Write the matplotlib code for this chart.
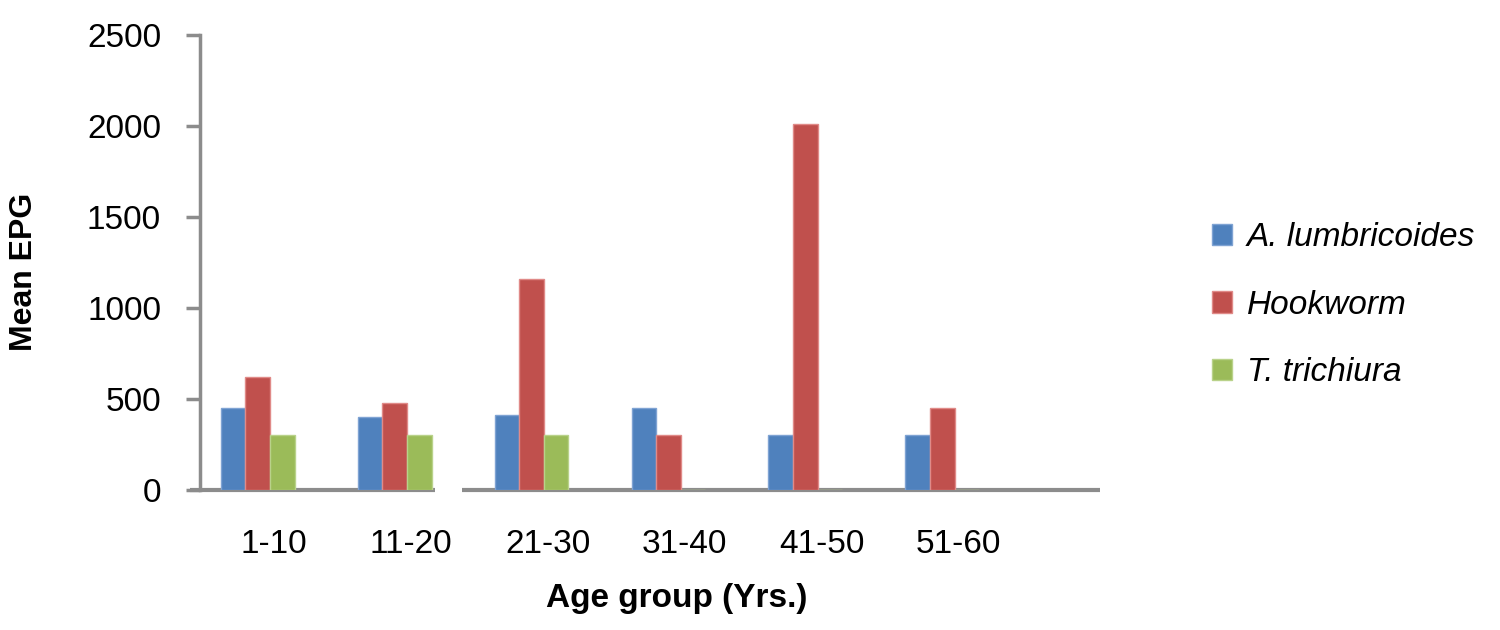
import matplotlib
matplotlib.use("Agg")
import matplotlib.pyplot as plt
import numpy as np
from matplotlib.patches import Patch
from matplotlib.transforms import ScaledTranslation

plt.rcParams['font.family'] = ['Liberation Sans', 'DejaVu Sans']

categories = ["1-10", "11-20", "21-30", "31-40", "41-50", "51-60"]
series_names = ["A. lumbricoides", "Hookworm", "T. trichiura"]
a_lumbricoides = [450, 400, 410, 450, 300, 300]
hookworm = [620, 480, 1160, 300, 2010, 450]
t_trichiura = [300, 300, 300, 0, 0, 0]
yticks = [0, 500, 1000, 1500, 2000, 2500]

colors = ["#4F81BD", "#C0504D", "#9BBB59"]
edges = ["#7FA3D3", "#E08A88", "#B9D28A"]

fig = plt.figure(figsize=(15, 6.3), dpi=100)
ax = fig.add_axes([200/1500, 1-490/630, 900/1500, 455/630])

x = np.arange(len(categories))
w = 0.18
for i, (vals, c, ec) in enumerate(zip([a_lumbricoides, hookworm, t_trichiura], colors, edges)):
    ax.bar(x + (i - 1) * w, vals, width=w, color=c, edgecolor=ec, linewidth=1.0, zorder=2)

ax.set_xlim(-0.42, 6.15)
ax.set_ylim(0, 2500)
ax.set_yticks(yticks)
ax.set_yticklabels([str(v) for v in yticks], fontsize=24)
ax.set_xticks(x)
ax.set_xticklabels(categories, fontsize=24)
ax.tick_params(axis='x', length=0, pad=28)
ax.tick_params(axis='y', length=10, width=2.5, color="#8C8C8C", pad=18)

# the reference's category labels sit slightly right of the bar groups
shift = ScaledTranslation(16/100, 0, fig.dpi_scale_trans)
for lab in ax.get_xticklabels():
    lab.set_transform(lab.get_transform() + shift)

for s in ["top", "right", "bottom"]:
    ax.spines[s].set_visible(False)
ax.spines["left"].set_color("#8C8C8C")
ax.spines["left"].set_linewidth(2.5)
ax.spines["left"].set_zorder(3)

# bottom axis line (with the small break seen in the reference)
ax.plot([-10/900, 235/900], [0, 0], transform=ax.transAxes, color="#8C8C8C",
        lw=3, clip_on=False, zorder=1, solid_capstyle='butt')
ax.plot([262/900, 1.0], [0, 0], transform=ax.transAxes, color="#8C8C8C",
        lw=3, clip_on=False, zorder=1, solid_capstyle='butt')

fig.text(24/1500, 1-272/630, "Mean EPG", rotation=90, ha="center", va="center",
         fontsize=23, fontweight="bold")
fig.text(677/1500, 1-598/630, "Age group (Yrs.)", ha="center", va="center",
         fontsize=24, fontweight="bold")

handles = [Patch(facecolor=c, edgecolor=ec) for c, ec in zip(colors, edges)]
leg = fig.legend(handles, series_names, loc="upper left",
                 bbox_to_anchor=(1182/1500, 1-192/630), frameon=False,
                 prop={'size': 24, 'style': 'italic'}, handlelength=0.6,
                 handleheight=0.6, handletextpad=0.45, labelspacing=1.1)

fig.savefig("out.png", dpi=100)
